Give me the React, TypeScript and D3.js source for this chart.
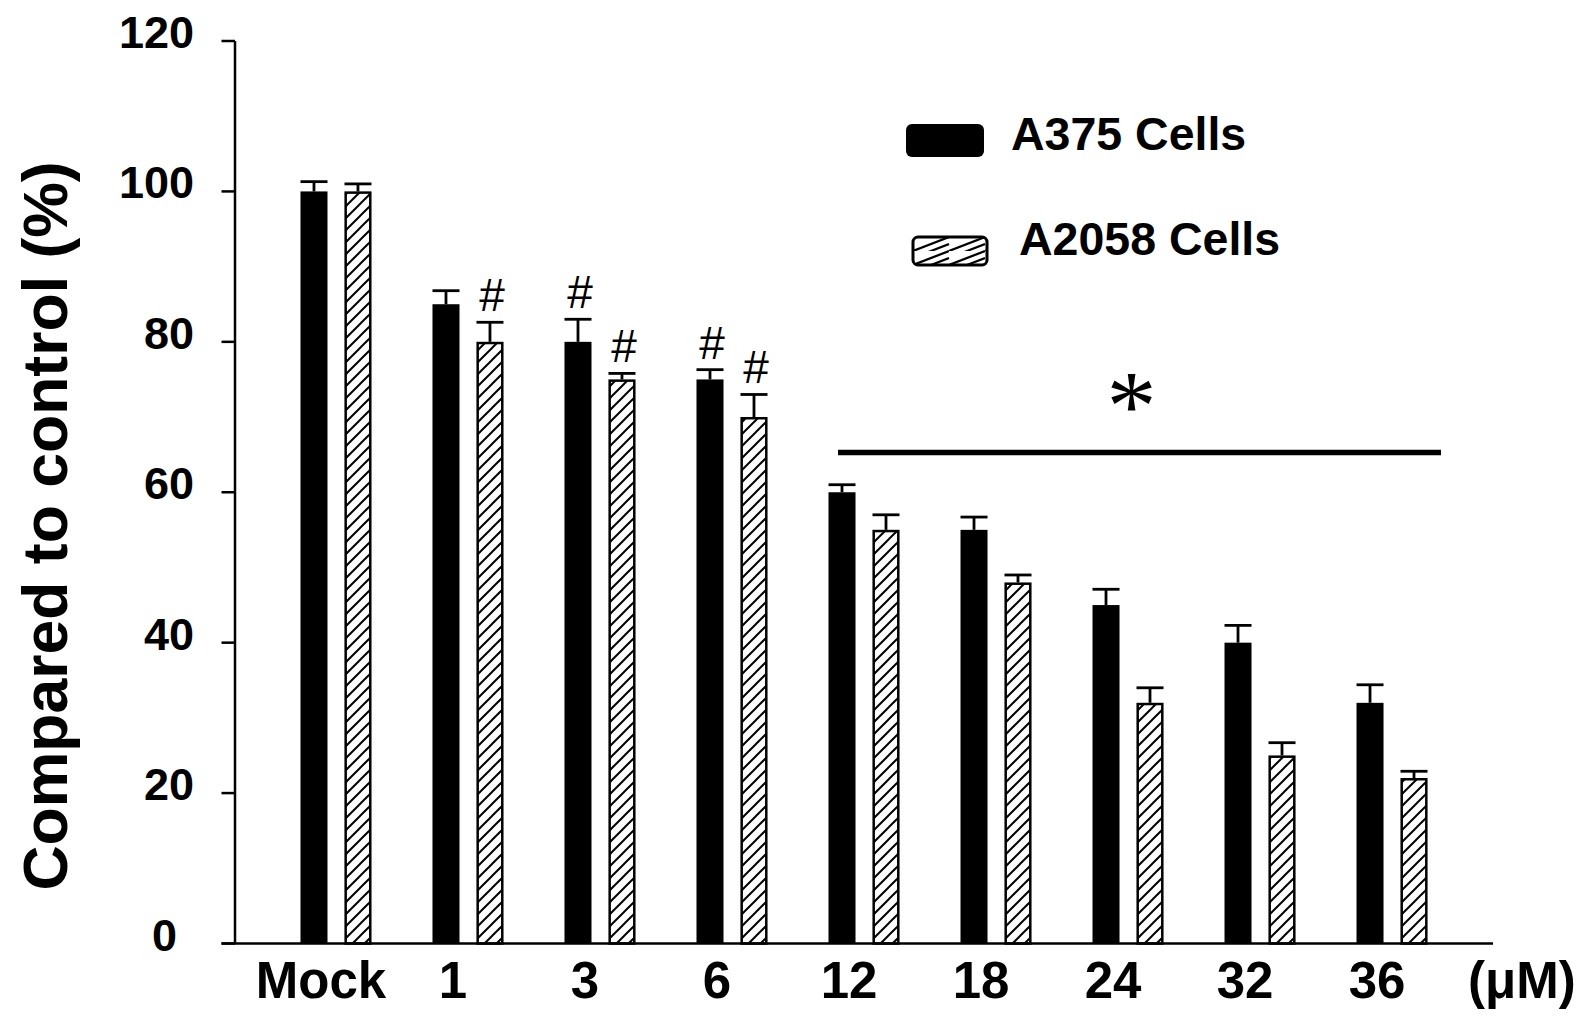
import React from "react";
import {scaleBand, scaleLinear} from "d3";

// doses on the x axis and the two cell lines
const doses = ["Mock", "1", "3", "6", "12", "18", "24", "32", "36"];
const seriesNames = ["A375", "A2058"];
const legendLabels = ["A375 Cells", "A2058 Cells"];

// mean viability (% of control) and upper error
const a375Mean = [100, 85, 80, 75, 60, 55, 45, 40, 32];
const a375Err = [1.3, 1.8, 3.0, 1.3, 1.0, 1.7, 2.1, 2.3, 2.4];
const a2058Mean = [100, 80, 75, 70, 55, 48, 32, 25, 22];
const a2058Err = [1.0, 2.6, 0.8, 3.0, 2.0, 1.0, 2.0, 1.7, 0.9];

const yTicks = [0, 20, 40, 60, 80, 100, 120];

// "#" marks over single bars, "*" over a range of doses
const hashMarks = [["1", "A2058"], ["3", "A375"], ["3", "A2058"], ["6", "A375"], ["6", "A2058"]];
const starFrom = "12";
const starTo = "36";
const starLevel = 65.3;

const FONT = "'Liberation Sans', Arial, Helvetica, sans-serif";

function App() {
    const width = 1586;
    const height = 1031;

    const y = scaleLinear().domain([0, 120]).range([943.5, 41]);
    const x = scaleBand().domain(doses).range([235, 1493]).paddingInner(0).paddingOuter(0.265);
    const xs = scaleBand().domain(seriesNames).range([30.5, 101.5]).paddingInner(0.386).paddingOuter(0);

    const rows = doses.map((d, i) => ({
        dose: d,
        A375: {mean: a375Mean[i], err: a375Err[i]},
        A2058: {mean: a2058Mean[i], err: a2058Err[i]},
    }));
    const byDose = Object.fromEntries(rows.map(r => [r.dose, r]));

    const barX = (dose, s) => x(dose) + xs(s);
    const bw = xs.bandwidth();

    const starX1 = x(starFrom) + 40;
    const starX2 = x(starTo) + x.bandwidth() - 17;

    return (
        <svg width={width} height={height}
             style={{position: "absolute", left: 0, top: 0, display: "block", background: "#fff"}}>
            <defs>
                <pattern id="hatch" patternUnits="userSpaceOnUse" width="12" height="12">
                    <path d="M-3,3 L3,-3 M0,12 L12,0 M9,15 L15,9" stroke="#000" strokeWidth="2"/>
                </pattern>
                <pattern id="hatchLegend" patternUnits="userSpaceOnUse" width="36" height="14"
                         patternTransform="translate(913,237)">
                    <path d="M-36,21 L0,7 M0,14 L36,0 M0,28 L36,14 M0,21 L36,7" stroke="#000" strokeWidth="2.2"/>
                </pattern>
            </defs>

            {/* bars */}
            {rows.map(r => (
                <g key={r.dose}>
                    {seriesNames.map(s => {
                        const v = r[s];
                        const bx = barX(r.dose, s);
                        const top = y(v.mean);
                        const et = y(v.mean + v.err);
                        return (
                            <g key={s}>
                                <line x1={bx + bw / 2} x2={bx + bw / 2} y1={top} y2={et}
                                      stroke="#000" strokeWidth="2.8"/>
                                <line x1={bx} x2={bx + bw} y1={et} y2={et} stroke="#000" strokeWidth="2.8"/>
                                {s === "A375" ? (
                                    <rect x={bx} y={top} width={bw} height={y(0) - top} fill="#000"/>
                                ) : (
                                    <rect x={bx + 1.2} y={top + 1.2} width={bw - 2.4} height={y(0) - top - 1.2}
                                          fill="url(#hatch)" stroke="#000" strokeWidth="2.5"/>
                                )}
                            </g>
                        );
                    })}
                </g>
            ))}

            {/* y axis */}
            <line x1={235} x2={235} y1={y(120)} y2={y(0)} stroke="#000" strokeWidth="2.5"/>
            {yTicks.map(t => (
                <g key={t}>
                    <line x1={221.5} x2={235} y1={y(t)} y2={y(t)} stroke="#000" strokeWidth="2.5"/>
                    <text x={t === 0 ? 177 : 194} y={y(t) + 7} textAnchor="end"
                          fontFamily={FONT} fontWeight="bold" fontSize="45">{t}</text>
                </g>
            ))}
            <text transform={`translate(67,526) rotate(-90)`} textAnchor="middle"
                  fontFamily={FONT} fontWeight="bold" fontSize="62.5">Compared to control (%)</text>

            {/* x axis */}
            <line x1={221.5} x2={1493} y1={y(0)} y2={y(0)} stroke="#000" strokeWidth="2.5"/>
            {doses.map(d => (
                <text key={d} x={x(d) + x.bandwidth() / 2 - 15} y={998} textAnchor="middle"
                      fontFamily={FONT} fontWeight="bold" fontSize="51">{d}</text>
            ))}
            <text x={1468} y={998} fontFamily={FONT} fontWeight="bold" fontSize="51">(μM)</text>

            {/* significance marks */}
            {hashMarks.map(([d, s]) => {
                const v = byDose[d][s];
                return (
                    <text key={d + s} x={barX(d, s) + bw / 2 + 2} y={y(v.mean + v.err) - 11}
                          textAnchor="middle" fontFamily={FONT} fontSize="46">#</text>
                );
            })}
            <line x1={starX1} x2={starX2} y1={y(starLevel)} y2={y(starLevel)} stroke="#000" strokeWidth="5.5"/>
            <text x={(starX1 + starX2) / 2 - 8} y={y(starLevel) - 13} textAnchor="middle"
                  fontFamily="'Liberation Serif', 'Times New Roman', serif" fontSize="100">*</text>

            {/* legend */}
            <rect x={906} y={124} width={78} height={33} rx={6} fill="#000"/>
            <text x={1011} y={150} fontFamily={FONT} fontWeight="bold" fontSize="46.5">{legendLabels[0]}</text>
            <rect x={913} y={237} width={74} height={28} rx={5} fill="url(#hatchLegend)"
                  stroke="#000" strokeWidth="3"/>
            <text x={1019} y={255} fontFamily={FONT} fontWeight="bold" fontSize="46.5">{legendLabels[1]}</text>
        </svg>
    );
}

export default App;
